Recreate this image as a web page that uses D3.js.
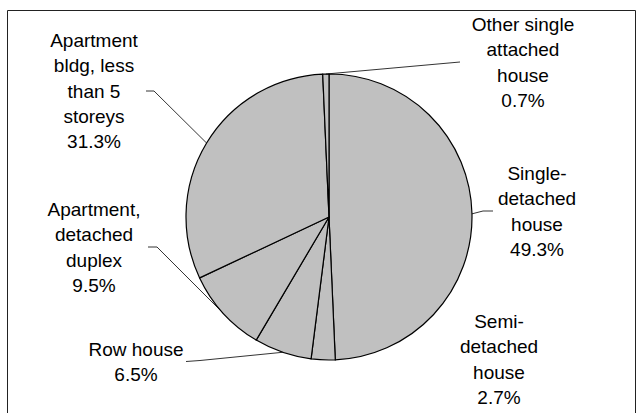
<!DOCTYPE html>
<html>
<head>
<meta charset="utf-8">
<script src="https://cdn.jsdelivr.net/npm/d3@7"></script>
<style>
  html, body { margin: 0; padding: 0; background: #fff; }
  svg { display: block; }
  text { font-family: "Liberation Sans", Arial, sans-serif; font-size: 19px; fill: #000; }
</style>
</head>
<body>
<svg id="chart" width="644" height="413"></svg>
<script>
// ---- data ----
const categories = [
  "Single-detached house",
  "Semi-detached house",
  "Row house",
  "Apartment, detached duplex",
  "Apartment bldg, less than 5 storeys",
  "Other single attached house"
];
const values = [49.3, 2.7, 6.5, 9.5, 31.3, 0.7];
const labelLines = [
  ["Single-", "detached", "house"],
  ["Semi-", "detached", "house"],
  ["Row house"],
  ["Apartment,", "detached", "duplex"],
  ["Apartment", "bldg, less", "than 5", "storeys"],
  ["Other single", "attached", "house"]
];

// ---- layout (positions only) ----
const cx = 329, cy = 217, radius = 143;
const lineH = 25.3;
const labelLayout = [
  { x: 537, y: 180, elbow: [[483, 211], [493, 211]] },
  { x: 499, y: 328, elbow: null },
  { x: 136, y: 356, elbow: [[200, 360.5], [186, 361.5]] },
  { x: 94,  y: 216, elbow: [[157, 247], [148, 247]] },
  { x: 94,  y: 47,  elbow: [[154, 91], [146, 91]] },
  { x: 523, y: 31,  elbow: [[460, 62]] }
];

const svg = d3.select("#chart");

// frame
svg.append("path")
  .attr("d", "M7.5,420 V10.5 H635.5 V420")
  .attr("fill", "none")
  .attr("stroke", "#222")
  .attr("stroke-width", 1);

const pie = d3.pie().sort(null).value(d => d).startAngle(0).endAngle(2 * Math.PI);
const arcs = pie(values);
const arc = d3.arc().innerRadius(0).outerRadius(radius);

const g = svg.append("g").attr("transform", `translate(${cx},${cy})`);
g.selectAll("path.slice")
  .data(arcs)
  .join("path")
  .attr("class", "slice")
  .attr("d", arc)
  .attr("fill", "#c0c0c0")
  .attr("stroke", "#000")
  .attr("stroke-width", 1.2)
  .attr("stroke-linejoin", "round");

// leader lines
arcs.forEach((a, i) => {
  const L = labelLayout[i];
  if (!L.elbow) return;
  const mid = (a.startAngle + a.endAngle) / 2;
  const px = cx + radius * Math.sin(mid);
  const py = cy - radius * Math.cos(mid);
  const pts = [[px, py]].concat(L.elbow);
  svg.append("path")
    .attr("d", d3.line()(pts))
    .attr("fill", "none")
    .attr("stroke", "#000")
    .attr("stroke-width", 0.8);
});

// labels
const fmt = d => d.toFixed(1) + "%";
arcs.forEach((a, i) => {
  const L = labelLayout[i];
  const lines = labelLines[i].concat([fmt(values[i])]);
  const t = svg.append("text").attr("text-anchor", "middle");
  lines.forEach((s, k) => {
    t.append("tspan").attr("x", L.x).attr("y", L.y + k * lineH).text(s);
  });
});
</script>
</body>
</html>
